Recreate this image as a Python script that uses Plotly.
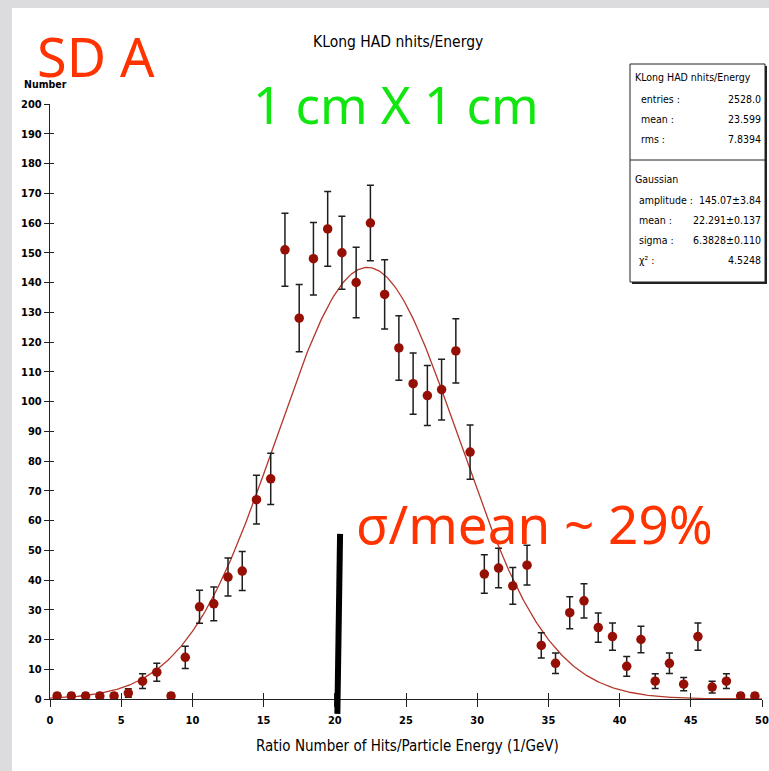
import numpy as np
import plotly.graph_objects as go

# ---- histogram: KLong HAD nhits/Energy, 1/GeV bins from 0 to 50 ----
BIN_CENTERS = [i + 0.5 for i in range(50)]
COUNTS = [1, 1, 1, 1, 1, 2, 6, 9, 1, 14,
          31, 32, 41, 43, 67, 74, 151, 128, 148, 158,
          150, 140, 160, 136, 118, 106, 102, 104, 117, 83,
          42, 44, 38, 45, 18, 12, 29, 33, 24, 21,
          11, 20, 6, 12, 5, 21, 4, 6, 1, 1]
ERRORS = [float(np.sqrt(c)) for c in COUNTS]  # Poisson errors

# ---- Gaussian fit results ----
FIT_AMPLITUDE = 145.07
FIT_AMPLITUDE_ERR = 3.84
FIT_MEAN = 22.291
FIT_MEAN_ERR = 0.137
FIT_SIGMA = 6.3828
FIT_SIGMA_ERR = 0.110
FIT_CHI2 = 4.5248

# ---- histogram statistics ----
STAT_ENTRIES = "2528.0"
STAT_MEAN = "23.599"
STAT_RMS = "7.8394"

X_TICKS = list(range(0, 51, 5))
Y_TICKS = list(range(0, 201, 10))

# marker line drawn by hand at ~20 1/GeV (x, y in data units)
BAR_X = (20.18, 20.37)
BAR_Y = (-5.0, 55.5)

W, H = 769, 771
ML, MR, MT, MB = 50, 7, 104, 72
PW, PH = W - ML - MR, H - MT - MB


def px(xpix):
    return (xpix - ML) / PW


def py(ypix):
    return (H - MB - ypix) / PH


AXIS_FONT = "DejaVu Sans Condensed, Liberation Sans Narrow, DejaVu Sans"
HAND_FONT = "Noto Sans, Open Sans, DejaVu Sans"

fit_x = np.linspace(0, 50, 501)
fit_y = FIT_AMPLITUDE * np.exp(-0.5 * ((fit_x - FIT_MEAN) / FIT_SIGMA) ** 2)

fig = go.Figure()
fig.add_trace(go.Scatter(
    x=fit_x, y=fit_y, mode="lines",
    line=dict(color="#b5372b", width=1.3),
    showlegend=False, hoverinfo="skip"))
fig.add_trace(go.Scatter(
    x=BIN_CENTERS, y=COUNTS, mode="markers",
    marker=dict(color="#960f05", size=9.5),
    error_y=dict(type="data", array=ERRORS, color="#1e1e1e",
                 thickness=1.5, width=3.5),
    showlegend=False))
# carrier for the overlaid tick axes
fig.add_trace(go.Scatter(x=[], y=[], xaxis="x2", yaxis="y2",
                         showlegend=False, hoverinfo="skip"))

tickfont = dict(family=AXIS_FONT, size=11, color="black", weight="bold")

fig.update_layout(
    width=W, height=H,
    margin=dict(l=ML, r=MR, t=MT, b=MB, pad=0, autoexpand=False),
    paper_bgcolor="#dcdcdf", plot_bgcolor="white",
    xaxis=dict(range=[0, 50], tickvals=X_TICKS, ticks="outside", ticklen=7,
               tickwidth=1.2, tickcolor="#222", showline=True,
               linecolor="#222", linewidth=1.2, showgrid=False,
               zeroline=False, tickfont=tickfont, ticklabelstandoff=4,
               automargin=False),
    yaxis=dict(range=[0, 200], tickvals=Y_TICKS, ticks="outside", ticklen=5,
               tickwidth=1.2, tickcolor="#222", showline=True,
               linecolor="#222", linewidth=1.2, showgrid=False,
               zeroline=False, tickfont=tickfont, ticklabelstandoff=0,
               automargin=False),
    xaxis2=dict(range=[0, 50], tickvals=X_TICKS, ticks="inside", ticklen=6,
                tickwidth=1.2, tickcolor="#222", overlaying="x",
                anchor="y2", side="bottom", showticklabels=False,
                showgrid=False, zeroline=False, showline=False,
                automargin=False),
    yaxis2=dict(range=[0, 200], tickvals=Y_TICKS, ticks="inside", ticklen=4,
                tickwidth=1.2, tickcolor="#222", overlaying="y",
                anchor="x2", side="left", showticklabels=False,
                showgrid=False, zeroline=False, showline=False,
                automargin=False),
)

shapes = [
    # white slide page
    dict(type="rect", xref="paper", yref="paper", layer="below",
         x0=px(12), x1=px(W + 5), y0=py(8), y1=py(H + 5),
         fillcolor="white", line=dict(width=0)),
    # hand-drawn marker at 20 1/GeV
    dict(type="line", xref="paper", yref="paper",
         x0=BAR_X[0] / 50, x1=BAR_X[1] / 50,
         y0=BAR_Y[0] / 200, y1=BAR_Y[1] / 200,
         line=dict(color="black", width=6)),
    # stats box shadow + box
    dict(type="rect", xref="paper", yref="paper",
         x0=px(632), x1=px(767), y0=py(66), y1=py(284),
         fillcolor="#222", line=dict(width=0)),
    dict(type="rect", xref="paper", yref="paper",
         x0=px(630), x1=px(765), y0=py(64), y1=py(282),
         fillcolor="white", line=dict(color="#222", width=1)),
    dict(type="line", xref="paper", yref="paper",
         x0=px(630), x1=px(765), y0=py(160), y1=py(160),
         line=dict(color="#222", width=1)),
]

annotations = []


def note(text, xp, yp, size, color="black", family=AXIS_FONT,
         xanchor="center", weight="normal"):
    annotations.append(dict(
        text=text, x=xp, y=yp, xref="paper", yref="paper",
        xanchor=xanchor, yanchor="middle", showarrow=False,
        font=dict(family=family, size=size, color=color, weight=weight)))


note("KLong HAD nhits/Energy", px(398), py(42), 15.5)
note("Number", px(45), py(84), 10.5, weight="bold")
note("Ratio Number of Hits/Particle Energy (1/GeV)", px(407), py(746), 15)
note("SD A", px(35), py(56), 54, color="#ff3300", family=HAND_FONT,
     xanchor="left")
note("1 cm X 1 cm", px(396), py(104), 51, color="#11e611", family=HAND_FONT)
note("σ/mean ~ 29%", px(534), py(523), 53, color="#ff3300",
     family=HAND_FONT)

# stats box contents
SB = 10.5
note("KLong HAD nhits/Energy", px(633), py(77), SB, xanchor="left")
rows_top = [("entries :", STAT_ENTRIES, 99),
            ("mean :", STAT_MEAN, 119),
            ("rms :", STAT_RMS, 139)]
for lab, val, y in rows_top:
    note(lab, px(639), py(y), SB, xanchor="left")
    note(val, px(763), py(y), SB, xanchor="right")
note("Gaussian", px(633), py(179), SB, xanchor="left")
rows_fit = [("amplitude :", f"{FIT_AMPLITUDE:.2f}±{FIT_AMPLITUDE_ERR:.2f}", 200),
            ("mean :", f"{FIT_MEAN:.3f}±{FIT_MEAN_ERR:.3f}", 220),
            ("sigma :", f"{FIT_SIGMA:.4f}±{FIT_SIGMA_ERR:.3f}", 240),
            ("χ² :", f"{FIT_CHI2:.4f}", 260)]
for lab, val, y in rows_fit:
    note(lab, px(637), py(y), SB, xanchor="left")
    note(val, px(763), py(y), SB, xanchor="right")

fig.update_layout(shapes=shapes, annotations=annotations)
fig.write_html("out.html")
